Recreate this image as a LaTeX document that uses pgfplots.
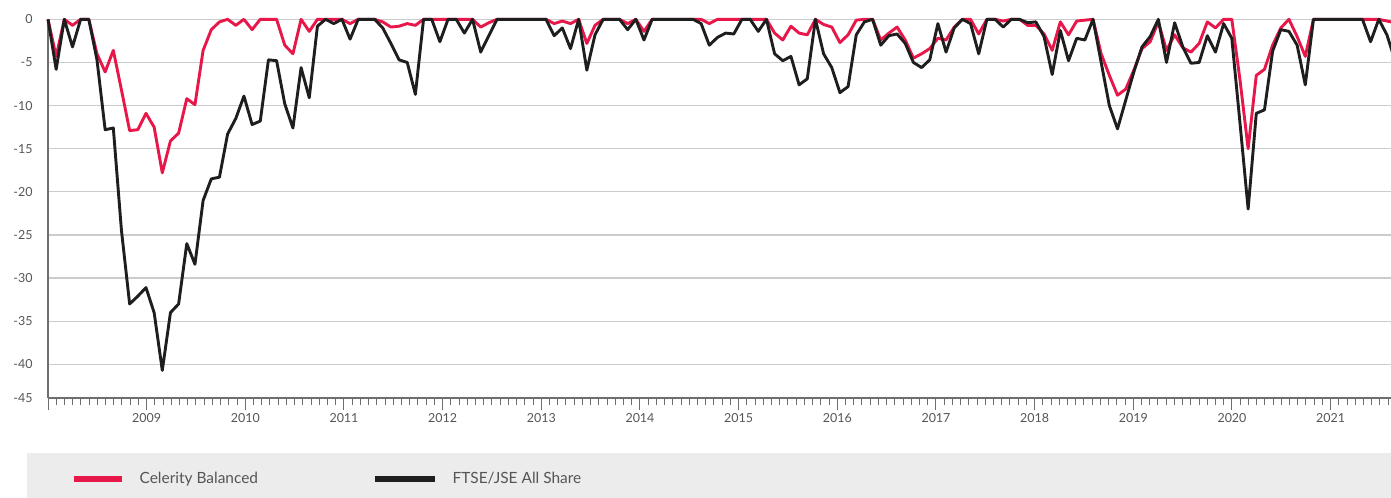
\documentclass[border=0pt]{standalone}
\usepackage{pgfplots}
\pgfplotsset{compat=1.18}
\usepackage{pgfplotstable}
\usepackage{fontspec}
\setmainfont{Lato}
\definecolor{celred}{RGB}{232,23,74}
\definecolor{jseblack}{RGB}{30,30,30}
\definecolor{gridgrey}{RGB}{204,204,204}
\definecolor{axisgrey}{RGB}{110,110,110}
\definecolor{labelgrey}{RGB}{85,85,85}
\definecolor{bandgrey}{RGB}{236,236,236}

\pgfplotstableread{
k cel jse
0 0 0
1 -4.3 -5.8
2 0 0
3 -0.7 -3.2
4 0 0
5 0 0
6 -4.0 -4.7
7 -6.1 -12.8
8 -3.6 -12.6
9 -8.2 -24.5
10 -12.9 -33.0
11 -12.8 -32.1
12 -10.9 -31.1
13 -12.5 -34.0
14 -17.8 -40.7
15 -14.1 -34.0
16 -13.2 -33.0
17 -9.2 -26.0
18 -9.9 -28.4
19 -3.6 -21.0
20 -1.2 -18.5
21 -0.3 -18.3
22 0 -13.3
23 -0.7 -11.5
24 0 -8.9
25 -1.2 -12.2
26 0 -11.8
27 0 -4.7
28 0 -4.8
29 -3.0 -9.8
30 -4.0 -12.6
31 0 -5.6
32 -1.4 -9.1
33 0 -0.8
34 0 0
35 0 -0.5
36 0 0
37 -0.5 -2.3
38 0 0
39 0 0
40 0 0
41 -0.3 -1.0
42 -0.9 -2.8
43 -0.8 -4.7
44 -0.5 -5.0
45 -0.7 -8.7
46 0 0
47 0 0
48 0 -2.6
49 0 0
50 0 0
51 0 -1.6
52 0 0
53 -0.9 -3.8
54 -0.4 -1.9
55 0 0
56 0 0
57 0 0
58 0 0
59 0 0
60 0 0
61 0 0
62 -0.5 -1.9
63 -0.2 -1.0
64 -0.5 -3.4
65 0 0
66 -2.8 -5.9
67 -0.7 -1.8
68 0 0
69 0 0
70 0 0
71 -0.5 -1.2
72 0 0
73 -1.4 -2.4
74 0 0
75 0 0
76 0 0
77 0 0
78 0 0
79 0 0
80 0 -0.5
81 -0.5 -3.0
82 0 -2.1
83 0 -1.6
84 0 -1.7
85 0 0
86 0 0
87 0 -1.4
88 0 0
89 -1.6 -4.0
90 -2.4 -4.8
91 -0.8 -4.3
92 -1.6 -7.6
93 -1.8 -6.9
94 0 0
95 -0.6 -4.0
96 -0.9 -5.6
97 -2.7 -8.5
98 -1.8 -7.8
99 -0.1 -1.8
100 0 -0.3
101 0 0
102 -2.4 -3.0
103 -1.6 -1.9
104 -0.9 -1.7
105 -2.4 -2.8
106 -4.5 -5.0
107 -4.0 -5.6
108 -3.4 -4.7
109 -2.2 -0.5
110 -2.4 -3.8
111 -0.9 -1.0
112 0 0
113 0 -0.5
114 -1.7 -4.0
115 0 0
116 0 0
117 -0.2 -0.9
118 0 0
119 0 0
120 -0.7 -0.4
121 -0.7 -0.3
122 -1.7 -2.0
123 -3.6 -6.4
124 -0.3 -1.3
125 -1.8 -4.8
126 -0.2 -2.2
127 -0.1 -2.4
128 0 0
129 -4.0 -5.0
130 -6.5 -10.0
131 -8.8 -12.7
132 -8.1 -9.4
133 -5.9 -6.1
134 -3.4 -3.2
135 -2.6 -2.0
136 -0.3 0
137 -3.6 -5.0
138 -1.8 -0.4
139 -3.3 -3.2
140 -3.8 -5.1
141 -2.8 -5.0
142 -0.3 -1.9
143 -1.0 -3.8
144 0 -0.5
145 0 -2.2
146 -7.0 -12.0
147 -15.0 -22.0
148 -6.5 -10.9
149 -5.8 -10.5
150 -3.0 -3.7
151 -1.0 -1.2
152 0 -1.4
153 -2.0 -3.0
154 -4.3 -7.6
155 0 0
156 0 0
157 0 0
158 0 0
159 0 0
160 0 0
161 0 0
162 0 -2.6
163 0 0
164 -0.2 -1.8
165 -0.4 -4.8
}\drawdown

\begin{document}
\begin{tikzpicture}
\useasboundingbox (0,0) rectangle (1391bp,-498bp);
\fill[bandgrey] (27bp,-453bp) rectangle (1391bp,-498bp);
\begin{axis}[
  at={(48bp,-398bp)}, anchor=south west,
  scale only axis, width=1343bp, height=378.7bp,
  xmin=0, xmax=164.5, ymin=-43.9, ymax=0,
  axis x line=bottom, axis y line=left,
  axis line style={-, axisgrey, line width=2bp},
  clip=false,
  ymajorgrids, grid style={gridgrey, line width=1.3bp},
  ytick={-40,-35,-30,-25,-20,-15,-10,-5,0},
  yticklabels={-40,-35,-30,-25,-20,-15,-10,-5,0},
  extra y ticks={-43.9}, extra y tick labels={-45},
  extra y tick style={grid=none},
  xtick={0,12.085,24.17,36.255,48.34,60.425,72.51,84.595,96.68,108.765,120.85,132.935,145.02,157.105},
  xticklabels={,2009,2010,2011,2012,2013,2014,2015,2016,2017,2018,2019,2020,2021},
  minor xtick={0,1.0071,...,164.5},
  tick align=outside,
  major tick length=12bp, minor tick length=7bp,
  xtick style={axisgrey, line width=1bp},
  minor x tick style={axisgrey, line width=1bp},
  ytick style={draw=none},
  tick label style={font=\fontsize{12.5}{14}\selectfont, text=labelgrey},
  legend style={at={(0,0)}, anchor=west, xshift=20bp, yshift=-81bp,
    draw=none, fill=none, font=\fontsize{15.5}{18}\selectfont, text=labelgrey,
    /tikz/every odd column/.append style={column sep=12bp},
    /tikz/every even column/.append style={column sep=112bp}},
  legend columns=2, legend cell align=left,
]
\addplot[celred, line width=2.9bp, line join=round,
  legend image code/.code={\draw[celred, line width=6.5bp] (0bp,0bp) -- (48bp,0bp);}]
  table[x=k, y=cel] {\drawdown};
\addlegendentry{Celerity Balanced}
\addplot[jseblack, line width=2.9bp, line join=round,
  legend image code/.code={\draw[jseblack, line width=6.5bp] (0bp,0bp) -- (60bp,0bp);}]
  table[x=k, y=jse] {\drawdown};
\addlegendentry{FTSE/JSE All Share}
\end{axis}
\end{tikzpicture}
\end{document}
